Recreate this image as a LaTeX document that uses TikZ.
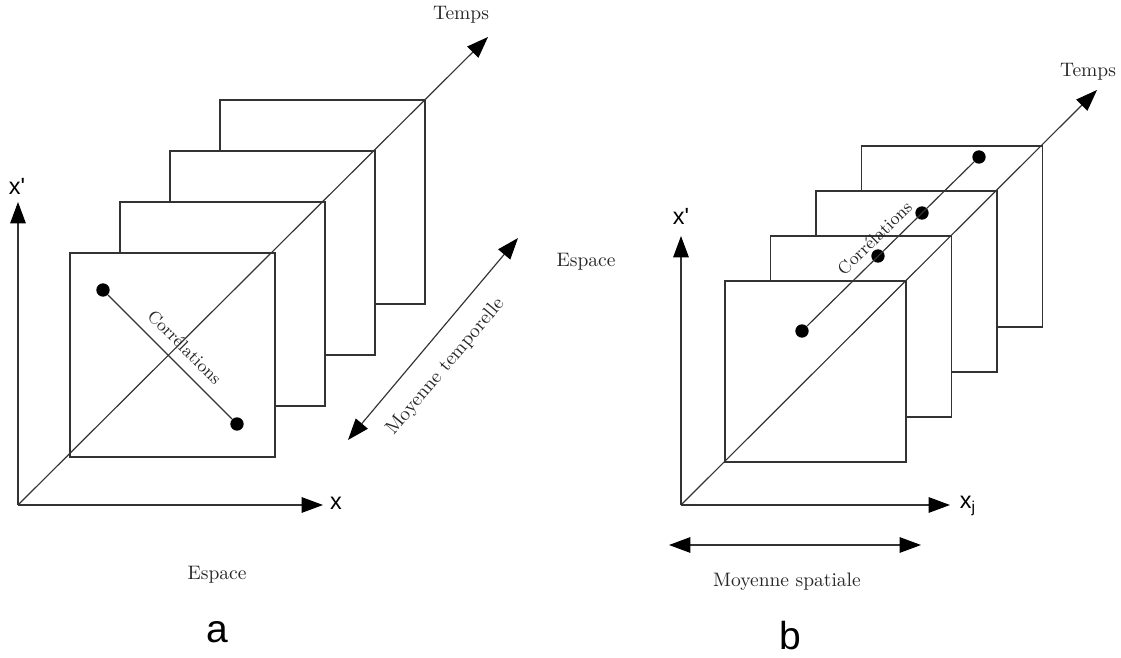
\documentclass[tikz,border=0pt]{standalone}
\usepackage{fontspec}
\newfontfamily\arialfont{Liberation Sans}
\usetikzlibrary{arrows.meta}

\begin{document}
\begin{tikzpicture}[x=0.018cm, y=-0.018cm,
  line/.style={draw=black!80, line width=0.6pt},
  tip/.tip={Triangle[length=11pt,width=8pt,color=black]},
  axis/.style={line, -tip},
  both/.style={line, tip-tip},
  frame/.style={line, fill=white},
  dot/.style={circle, fill=black, inner sep=0pt, minimum size=0.24cm},
  axlabel/.style={font=\arialfont\fontsize{12}{14}\selectfont, inner sep=1pt},
  panel/.style={font=\arialfont\fontsize{20}{24}\selectfont},
  txt/.style={font=\normalsize, text=black!85}]
  \useasboundingbox (0,0) rectangle (1121,658);
  % (a) spatial correlations, time average
  \coordinate (oa) at (18,505);
  \coordinate (ya) at (18,202);
  \coordinate (xa) at (323,505);
  \coordinate (ta) at (488,37);
  \foreach \k in {3,2,1,0}
    \draw[frame] ({70+50*\k},{253-51*\k}) rectangle ++(205,204);
  \draw[axis] (oa) -- (ya);
  \draw[axis] (oa) -- (xa);
  \draw[axis] (oa) -- (ta);
  \node[dot] (da1) at (103,290) {};
  \node[dot] (da2) at (237,424) {};
  \draw[line] (da1) -- node[sloped, above=2pt, pos=0.52, font=\small, text=black!85] {Corrélations} (da2);
  \coordinate (ma1) at (348,440);
  \coordinate (ma2) at (518,238);
  \draw[both] (ma1) -- node[sloped, below=6pt, pos=0.45, txt] {Moyenne temporelle} (ma2);
  \node[axlabel] (lya) at (17,186) {x'};
  \node[axlabel] (lxa) at (336,503) {x};
  \node[txt] (lta) at (461,15) {Temps};
  \node[txt] (esa) at (217,575) {Espace};
  \node[txt] (esb) at (586,262) {Espace};
  \node[panel] (pa) at (217,632) {a};
  % (b) temporal correlations, spatial average
  \coordinate (ob) at (681,505);
  \coordinate (yb) at (681,236);
  \coordinate (xb) at (950,505);
  \coordinate (tb) at (1097,90);
  \foreach \k in {3,2,1,0}
    \draw[frame] ({725+45.5*\k},{281-45*\k}) rectangle ++(181,181);
  \draw[axis] (ob) -- (yb);
  \draw[axis] (ob) -- (xb);
  \draw[axis] (ob) -- (tb);
  \node[dot] (db1) at (802,331) {};
  \node[dot] (db2) at (878,256) {};
  \node[dot] (db3) at (922,213) {};
  \node[dot] (db4) at (979,157) {};
  \draw[line] (db1) -- node[sloped, above=1pt, pos=0.47, font=\small, text=black!85] {Corrélations} (db4);
  \coordinate (mb1) at (669,545);
  \coordinate (mb2) at (921,545);
  \draw[both] (mb1) -- (mb2);
  \node[axlabel] (lyb) at (681,216) {x'};
  \node[axlabel] (lxb) at (968,506) {x\textsubscript{j}};
  \node[txt] (ltb) at (1088,72) {Temps};
  \node[txt] (msp) at (787,582) {Moyenne spatiale};
  \node[panel] (pb) at (790,636) {b};
\end{tikzpicture}
\end{document}
